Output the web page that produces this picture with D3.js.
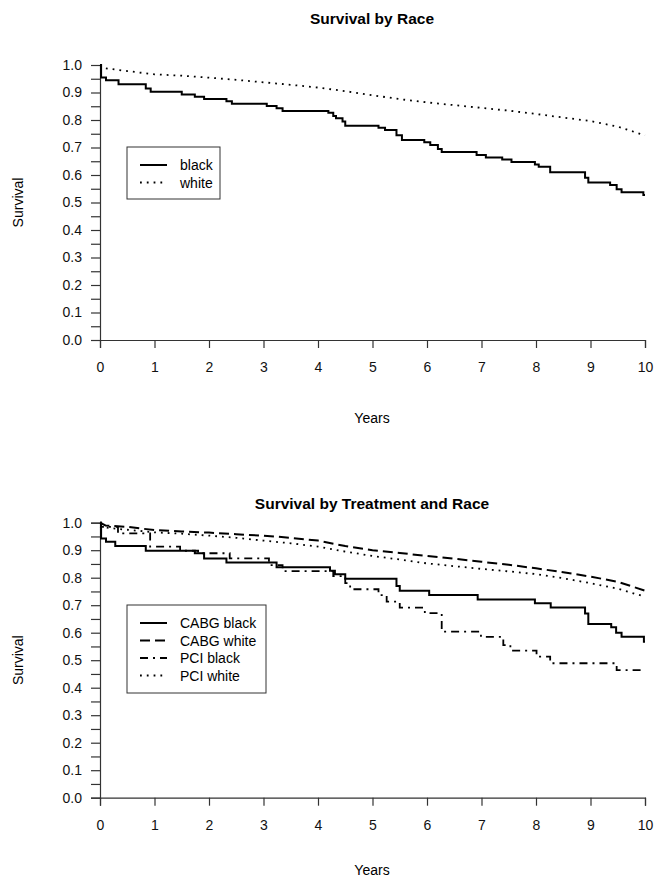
<!DOCTYPE html>
<html><head><meta charset="utf-8">
<script src="https://cdn.jsdelivr.net/npm/d3@7"></script>
<style>body{margin:0;background:#fff}text{font-family:"Liberation Sans",Arial,Helvetica,sans-serif}</style>
</head><body><svg id="c" width="667" height="889"></svg>
<script>
// ---- data ----
const xTicks = [0,1,2,3,4,5,6,7,8,9,10];
const yTicks = [0,0.1,0.2,0.3,0.4,0.5,0.6,0.7,0.8,0.9,1.0];
const yMinorTicks = [0.05,0.15,0.25,0.35,0.45,0.55,0.65,0.75,0.85,0.95];

// Top chart: Survival by Race  [years, survival]
const raceBlack = [[0,1],[0.02,0.955],[0.11,0.945],[0.34,0.93],[0.84,0.915],[0.93,0.903],[1.5,0.893],[1.74,0.885],[1.91,0.876],[2.32,0.868],[2.42,0.859],[3.06,0.851],[3.24,0.843],[3.35,0.833],[4.19,0.826],[4.28,0.815],[4.33,0.806],[4.45,0.795],[4.5,0.779],[5.11,0.772],[5.23,0.764],[5.44,0.745],[5.54,0.727],[5.95,0.719],[6.06,0.709],[6.2,0.695],[6.27,0.684],[6.91,0.673],[7.08,0.664],[7.38,0.656],[7.55,0.647],[7.98,0.638],[8.05,0.63],[8.26,0.61],[8.9,0.59],[8.96,0.573],[9.36,0.564],[9.48,0.548],[9.57,0.537],[9.97,0.527],[10,0.527]];
const raceWhite = [[0,1],[0.1,0.988],[0.5,0.978],[1,0.966],[1.5,0.961],[2,0.954],[2.5,0.946],[3,0.937],[3.5,0.928],[4,0.918],[4.5,0.905],[5,0.89],[5.5,0.876],[6,0.864],[6.5,0.854],[7,0.844],[7.5,0.834],[8,0.822],[8.5,0.809],[9,0.796],[9.5,0.776],[10,0.744]];

// Bottom chart: Survival by Treatment and Race
const cabgBlack = [[0,1],[0.02,0.943],[0.11,0.931],[0.28,0.915],[0.84,0.898],[1.74,0.889],[1.91,0.87],[2.32,0.855],[3.24,0.838],[4.22,0.825],[4.31,0.813],[4.5,0.796],[5.44,0.77],[5.5,0.753],[6.04,0.737],[6.93,0.721],[7.98,0.707],[8.27,0.692],[8.9,0.67],[8.96,0.632],[9.38,0.62],[9.47,0.6],[9.57,0.585],[9.98,0.567],[10,0.567]];
const cabgWhite = [[0,1],[0.1,0.99],[0.5,0.985],[1,0.973],[1.5,0.968],[2,0.964],[2.5,0.958],[3,0.953],[3.5,0.945],[4,0.935],[4.5,0.915],[5,0.9],[5.5,0.89],[6,0.879],[6.5,0.869],[7,0.858],[7.5,0.847],[8,0.834],[8.5,0.82],[9,0.804],[9.5,0.785],[10,0.753]];
const pciBlack = [[0,1],[0.02,0.985],[0.33,0.961],[0.92,0.913],[1.47,0.898],[1.8,0.889],[2.38,0.87],[3.1,0.846],[3.35,0.824],[4.28,0.806],[4.5,0.78],[4.59,0.758],[5.11,0.737],[5.26,0.713],[5.5,0.691],[5.96,0.671],[6.27,0.604],[6.99,0.585],[7.4,0.555],[7.53,0.535],[8.01,0.513],[8.26,0.489],[9.48,0.464],[10,0.464]];
const pciWhite = [[0,0.985],[0.3,0.978],[1,0.965],[1.5,0.96],[2,0.953],[2.5,0.945],[3,0.935],[3.5,0.925],[4,0.913],[4.5,0.895],[5,0.879],[5.5,0.866],[6,0.852],[6.5,0.842],[7,0.832],[7.5,0.823],[8,0.813],[8.5,0.798],[9,0.78],[9.5,0.76],[10,0.731]];

const svg = d3.select("#c");
const styles = {
  solid: {dash:null, w:2},
  dashed: {dash:"10,5", w:2},
  dotted: {dash:"1.8,5", w:1.8},
  dashdot: {dash:"8,5,2,5", w:1.8}
};

function panel(cfg){
  const x = d3.scaleLinear().domain([0,10]).range([100,645]);
  const y = d3.scaleLinear().domain([0,1]).range([cfg.y0, cfg.y1]);
  const g = svg.append("g");
  g.append("text").attr("x",372).attr("y",cfg.titleY).attr("text-anchor","middle")
    .attr("font-weight","bold").attr("font-size",15.5).text(cfg.title);
  // axes
  g.append("g").attr("transform",`translate(0,${cfg.y0})`)
    .call(d3.axisBottom(x).tickValues(xTicks).tickFormat(d3.format("d")).tickSizeOuter(0).tickSize(8).tickPadding(14));
  g.append("g").attr("transform","translate(100,0)")
    .call(d3.axisLeft(y).tickValues(yTicks).tickFormat(d3.format(".1f")).tickSizeOuter(0).tickSize(9).tickPadding(9));
  g.append("g").attr("transform","translate(100,0)")
    .call(d3.axisLeft(y).tickValues(yMinorTicks).tickFormat("").tickSizeOuter(0).tickSize(9))
    .select(".domain").remove();
  g.selectAll(".domain, .tick line").attr("stroke","#333").attr("stroke-width",1.2);
  g.selectAll(".tick text").attr("font-size",14).attr("fill","#111").attr("font-family","Liberation Sans, Arial, sans-serif");
  g.append("text").attr("transform",`translate(23,${(cfg.y0+cfg.y1)/2}) rotate(-90)`)
    .attr("text-anchor","middle").attr("font-size",14).text("Survival");
  g.append("text").attr("x",cfg.yearsX).attr("y",cfg.yearsY).attr("text-anchor","middle")
    .attr("font-size",14).text("Years");
  // lines
  const line = d3.line().x(d=>x(d[0])).y(d=>y(d[1]));
  cfg.series.forEach(s=>{
    const st = styles[s.style];
    g.append("path").datum(s.data)
      .attr("d", line.curve(s.step ? d3.curveStepAfter : d3.curveLinear))
      .attr("fill","none").attr("stroke","#000").attr("stroke-width",st.w)
      .attr("stroke-dasharray",st.dash);
  });
  // legend
  const lg = g.append("g");
  lg.append("rect").attr("x",cfg.lx).attr("y",cfg.ly).attr("width",cfg.lw).attr("height",cfg.lh)
    .attr("fill","#fff").attr("stroke","#333").attr("stroke-width",1);
  cfg.series.forEach((s,i)=>{
    const st = styles[s.style];
    const yy = cfg.ly + cfg.lfirst + i*cfg.lstep;
    lg.append("line").attr("x1",cfg.lx+13).attr("x2",cfg.lx+40).attr("y1",yy).attr("y2",yy)
      .attr("stroke","#000").attr("stroke-width",st.w).attr("stroke-dasharray",st.dash);
    lg.append("text").attr("x",cfg.lx+53).attr("y",yy+5).attr("font-size",14).text(s.name);
  });
}

panel({title:"Survival by Race", titleY:24, y0:340, y1:65, yearsX:372, yearsY:423,
  lx:127, ly:147, lw:93, lh:52, lfirst:18, lstep:17.5,
  series:[{name:"black",data:raceBlack,style:"solid",step:true},
          {name:"white",data:raceWhite,style:"dotted",step:false}]});
panel({title:"Survival by Treatment and Race", titleY:509, y0:797.7, y1:522.7, yearsX:372, yearsY:875,
  lx:127, ly:605, lw:139, lh:88, lfirst:18, lstep:17.5,
  series:[{name:"CABG black",data:cabgBlack,style:"solid",step:true},
          {name:"CABG white",data:cabgWhite,style:"dashed",step:false},
          {name:"PCI black",data:pciBlack,style:"dashdot",step:true},
          {name:"PCI white",data:pciWhite,style:"dotted",step:false}]});
</script></body></html>
